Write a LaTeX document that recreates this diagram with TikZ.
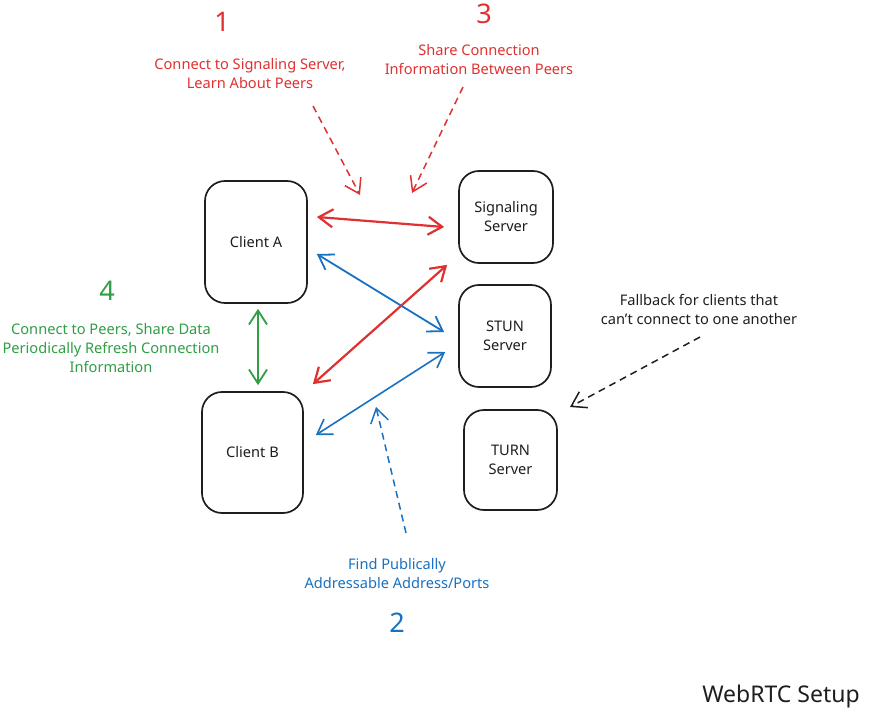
\documentclass[tikz,border=0pt]{standalone}
\usepackage{fontspec}
\setmainfont{Noto Sans}
\usetikzlibrary{arrows.meta, positioning}
\definecolor{ink}{HTML}{1E1E1E}
\definecolor{sigred}{HTML}{E03131}
\definecolor{stunblue}{HTML}{1971C2}
\definecolor{peergreen}{HTML}{2F9E44}
\newcommand*{\labelFont}{\fontsize{14.6}{19}\selectfont}
\tikzset{
    box/.style    = {draw=ink, line width=1.7pt, rounded corners=20pt, align=center, text=ink, font=\labelFont},
    note/.style   = {align=center, inner sep=0pt, font=\labelFont},
    num/.style    = {inner sep=0pt, font=\fontsize{27}{30}\selectfont},
    twoway/.style = {line width=2.2pt, {Straight Barb[length=14pt, width=18pt]}-{Straight Barb[length=14pt, width=18pt]}},
    hint/.style   = {line width=1.5pt, dash pattern=on 7pt off 5pt, -{Straight Barb[length=14pt, width=18pt]}}
}

\begin{document}
\begin{tikzpicture}[x=1pt, y=-1pt]
	\useasboundingbox[fill=white] (0,0) rectangle (872,711);

	% clients and servers
	\node (clientA) [box, minimum width=102pt, minimum height=122pt] at (256,242) {Client A};
	\node (clientB) [box, minimum width=101pt, minimum height=121pt] at (252.5,452.5) {Client B};
	\node (sig)     [box, minimum width=94pt, minimum height=92pt] at (506,217) {Signaling\\Server};
	\node (stun)    [box, minimum width=92pt, minimum height=102pt] at (505,336) {STUN\\Server};
	\node (turn)    [box, minimum width=93pt, minimum height=100pt] at (510.5,460) {TURN\\Server};

	% step labels
	\node (num1)  [num, text=sigred] at (222,22) {1};
	\node (note1) [note, text=sigred] at (250,73.5) {Connect to Signaling Server,\\Learn About Peers};
	\node (num3)  [num, text=sigred] at (484,14) {3};
	\node (note3) [note, text=sigred] at (479,59.5) {Share Connection\\Information Between Peers};
	\node (num2)  [num, text=stunblue] at (397,623) {2};
	\node (note2) [note, text=stunblue] at (397,573.5) {Find Publically\\Addressable Address/Ports};
	\node (num4)  [num, text=peergreen] at (107,291) {4};
	\node (note4) [note, text=peergreen] at (111,348) {Connect to Peers, Share Data\\Periodically Refresh Connection\\Information};
	\node (noteT) [note, text=ink] at (699,309.5) {Fallback for clients that\\can't connect to one another};
	\node (title) [inner sep=0pt, text=ink, font=\fontsize{23}{26}\selectfont] at (781,697) {WebRTC Setup};

	\coordinate (tip1) at (360,195);
	\coordinate (tip3) at (412,193);
	\coordinate (tip2) at (376,407);
	\coordinate (tipT) at (570,407);

	% connections
	\draw [twoway, sigred] ([shift={(9,-25)}]clientA.east) -- ([shift={(-14,10)}]sig.west);
	\draw [twoway, stunblue, line width=1.8pt] ([shift={(9,12)}]clientA.east) -- ([shift={(-14,-4)}]stun.west);
	\draw [twoway, sigred] ([shift={(9,-7)}]clientB.north east) -- ([shift={(-11,1)}]sig.south west);
	\draw [twoway, stunblue, line width=1.6pt] ([shift={(12,-17.5)}]clientB.east) -- ([shift={(-13,16)}]stun.west);
	\draw [twoway, peergreen, line width=1.8pt] ([shift={(2,5)}]clientA.south) -- ([shift={(5.5,-6)}]clientB.north);

	% hints
	\draw [hint, sigred] ([shift={(63,32.5)}]note1.center) -- (tip1);
	\draw [hint, sigred] ([shift={(-16,27.5)}]note3.center) -- (tip3);
	\draw [hint, stunblue] ([shift={(9,-40.5)}]note2.center) -- (tip2);
	\draw [hint, ink] ([shift={(1,27.5)}]noteT.center) -- (tipT);
\end{tikzpicture}
\end{document}
